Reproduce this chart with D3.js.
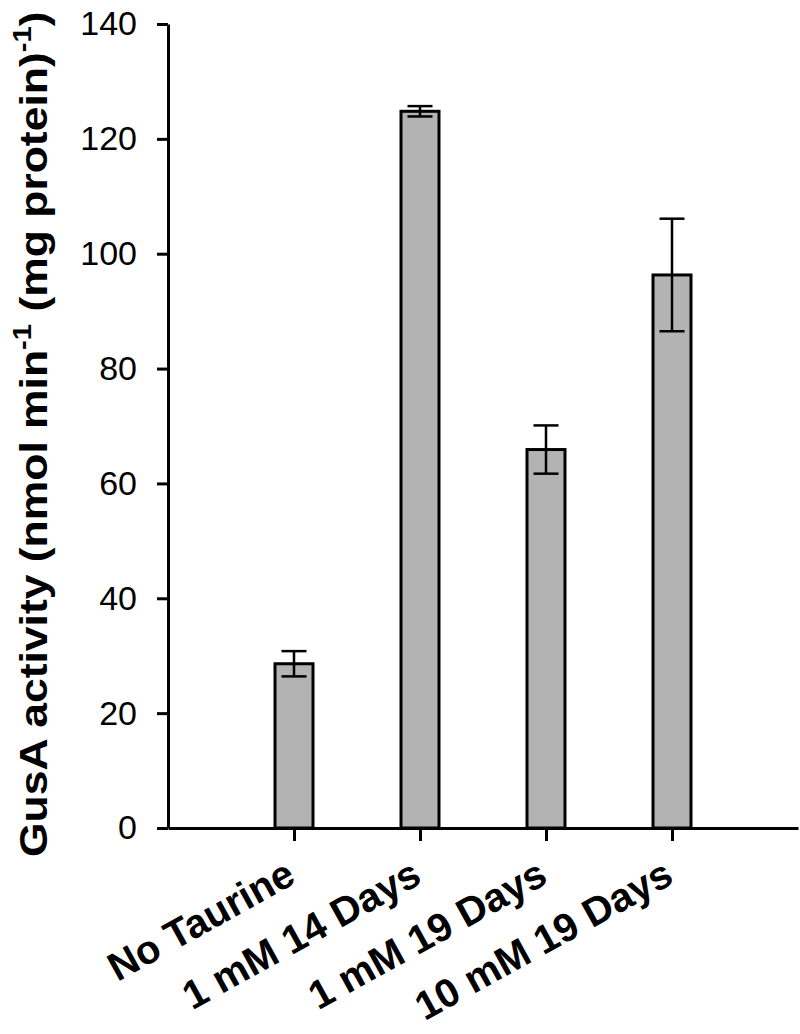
<!DOCTYPE html>
<html>
<head>
<meta charset="utf-8">
<script src="https://cdn.jsdelivr.net/npm/d3@7"></script>
<style>
  body { margin: 0; background: #fff; }
  svg { display: block; }
  text { font-family: "Liberation Sans", Arial, sans-serif; }
</style>
</head>
<body>
<svg id="chart"></svg>
<script>
// data
var categories = ["No Taurine", "1 mM 14 Days", "1 mM 19 Days", "10 mM 19 Days"];
var values = [28.6, 124.8, 65.9, 96.3];
var errors = [2.2, 0.9, 4.2, 9.8];
var yTicks = [0, 20, 40, 60, 80, 100, 120, 140];

var width = 800,
    height = 1034;

var svg = d3.select("#chart")
    .attr("width", width)
    .attr("height", height);

// plot area edges
var plotLeft = 168, plotRight = 798, plotTop = 24, plotBottom = 828;

var x = d3.scalePoint()
    .domain(categories)
    .range([plotLeft, plotRight])
    .padding(1);

var y = d3.scaleLinear()
    .domain([0, 140])
    .range([plotBottom, plotTop]);

var barWidth = 38;

// bars
svg.selectAll("rect.bar")
    .data(values)
  .enter().append("rect")
    .attr("class", "bar")
    .attr("x", function(d, i) { return x(categories[i]) - barWidth / 2; })
    .attr("y", function(d) { return y(d); })
    .attr("width", barWidth)
    .attr("height", function(d) { return y(0) - y(d); })
    .attr("fill", "#b3b3b3")
    .attr("stroke", "#000")
    .attr("stroke-width", 3);

// error bars
var err = svg.selectAll("g.err")
    .data(values)
  .enter().append("g")
    .attr("class", "err")
    .attr("stroke", "#000")
    .attr("stroke-width", 2.5);

err.append("line")
    .attr("x1", function(d, i) { return x(categories[i]); })
    .attr("x2", function(d, i) { return x(categories[i]); })
    .attr("y1", function(d, i) { return y(d + errors[i]); })
    .attr("y2", function(d, i) { return y(d - errors[i]); });

[1, -1].forEach(function(s) {
  err.append("line")
      .attr("x1", function(d, i) { return x(categories[i]) - 12.5; })
      .attr("x2", function(d, i) { return x(categories[i]) + 12.5; })
      .attr("y1", function(d, i) { return y(d + s * errors[i]); })
      .attr("y2", function(d, i) { return y(d + s * errors[i]); });
});

// y axis
var yAxis = svg.append("g")
    .attr("transform", "translate(" + plotLeft + ",0)")
    .call(d3.axisLeft(y).tickValues(yTicks).tickSize(11).tickSizeOuter(0).tickPadding(20));

// x axis
var xAxis = svg.append("g")
    .attr("transform", "translate(0," + plotBottom + ")")
    .call(d3.axisBottom(x).tickSize(13).tickSizeOuter(0).tickFormat(""));

svg.selectAll(".domain").attr("stroke", "#000").attr("stroke-width", 3);
svg.selectAll(".tick line").attr("stroke", "#000").attr("stroke-width", 3);

yAxis.selectAll("text")
    .attr("font-size", 34)
    .attr("font-family", "Liberation Sans, Arial, sans-serif")
    .attr("fill", "#000");

// rotated category labels
svg.selectAll("text.cat")
    .data(categories)
  .enter().append("text")
    .attr("class", "cat")
    .attr("transform", function(d) { return "translate(" + (x(d) - 11) + ",856) rotate(-29)"; })
    .attr("text-anchor", "end")
    .attr("dy", "0.75em")
    .attr("font-size", 40)
    .attr("font-weight", "bold")
    .text(function(d) { return d; });

// y axis title with superscripts
var title = svg.append("text")
    .attr("transform", "translate(47,857) rotate(-90) scale(1.17,1)")
    .attr("font-size", 38)
    .attr("font-weight", "bold");

title.append("tspan").text("GusA activity (nmol min");
title.append("tspan").attr("dy", -16).attr("font-size", 25).text("-1");
title.append("tspan").attr("dy", 16).text(" (mg protein)");
title.append("tspan").attr("dy", -16).attr("font-size", 25).text("-1");
title.append("tspan").attr("dy", 16).text(")");
</script>
</body>
</html>
